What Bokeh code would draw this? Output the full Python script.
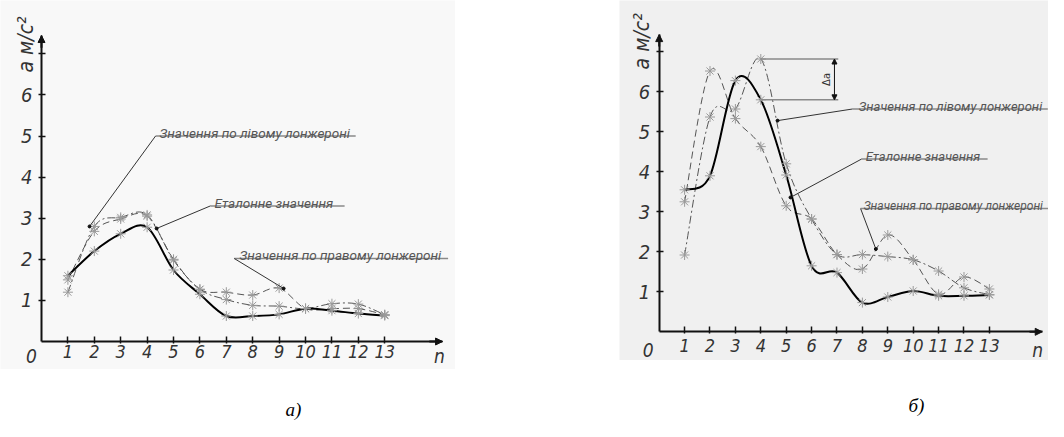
import math
from bokeh.plotting import figure
from bokeh.layouts import row, column
from bokeh.models import (Range1d, FixedTicker, Label, Arrow, NormalHead, Spacer)
from bokeh.embed import file_html
from bokeh.resources import INLINE

# ---------------- data ----------------
n = [1, 2, 3, 4, 5, 6, 7, 8, 9, 10, 11, 12, 13]

# panel а)
etalon_a = [1.6, 2.2, 2.62, 2.78, 1.74, 1.15, 0.62, 0.62, 0.66, 0.8, 0.75, 0.68, 0.63]
left_a = [1.2, 2.8, 3.02, 3.08, 1.98, 1.27, 1.02, 0.88, 0.86, 0.8, 0.92, 0.91, 0.65]
right_a = [1.5, 2.68, 2.98, 3.05, 2.0, 1.27, 1.2, 1.13, 1.3, 0.8, 0.8, 0.8, 0.65]

# panel б)
etalon_b = [3.55, 3.9, 6.28, 5.8, 3.92, 1.65, 1.48, 0.73, 0.87, 1.02, 0.9, 0.9, 0.92]
left_b = [1.92, 5.37, 5.57, 6.82, 4.2, 2.82, 1.93, 1.93, 1.88, 1.8, 1.52, 1.1, 0.93]
right_b = [3.25, 6.52, 5.33, 4.63, 3.15, 2.82, 1.93, 1.57, 2.42, 1.8, 0.94, 1.37, 1.07]

y_ticks = [1, 2, 3, 4, 5, 6, 7]
y_tick_labels = {7: ""}

lbl_left = "Значення по лівому лонжероні"
lbl_etalon = "Еталонне значення"
lbl_right = "Значення по правому лонжероні"
y_title = "a м/с²"
captions = ["а)", "б)"]

FONT = "Roboto"
AXFONT = "DejaVu Sans Condensed"


def smooth(xs, ys, k=1.0 / 6.0):
    m = len(xs)
    d = dict(x0=[], y0=[], x1=[], y1=[], cx0=[], cy0=[], cx1=[], cy1=[])
    for i in range(m - 1):
        a = max(i - 1, 0)
        b = min(i + 2, m - 1)
        d["x0"].append(xs[i]); d["y0"].append(ys[i])
        d["x1"].append(xs[i + 1]); d["y1"].append(ys[i + 1])
        d["cx0"].append(xs[i] + (xs[i + 1] - xs[a]) * k)
        d["cy0"].append(ys[i] + (ys[i + 1] - ys[a]) * k)
        d["cx1"].append(xs[i + 1] - (xs[b] - xs[i]) * k)
        d["cy1"].append(ys[i + 1] - (ys[b] - ys[i]) * k)
    return d


def make_panel(width, height, xr, yr, xb, yb, bg, et, lf, rt,
               label_std_x, notes, origin_off, n_pos, ytitle_pos):
    p = figure(width=width, height=height, x_range=Range1d(*xr),
               y_range=Range1d(*yr), output_backend="svg",
               toolbar_location=None, min_border=0)
    p.background_fill_color = bg
    p.border_fill_color = bg
    p.outline_line_color = None
    p.xgrid.visible = False
    p.ygrid.visible = False

    for ax in (p.xaxis[0], p.yaxis[0]):
        ax.fixed_location = 0
        ax.axis_line_color = "#111111"
        ax.axis_line_width = 2
        ax.major_tick_line_color = "#111111"
        ax.major_tick_line_width = 1.5
        ax.minor_tick_line_color = None
        ax.major_label_text_font = AXFONT
        ax.major_label_text_font_style = "italic"
        ax.major_label_text_color = "#333333"
    p.xaxis.major_label_text_font_size = "18px"
    p.yaxis.major_label_text_font_size = "20px"
    p.xaxis.bounds = (0, xb)
    p.yaxis.bounds = (0, yb)
    p.xaxis.ticker = FixedTicker(ticks=n)
    p.xaxis.major_tick_in = 5
    p.xaxis.major_tick_out = 2
    p.xaxis.major_label_standoff = label_std_x
    p.yaxis.ticker = FixedTicker(ticks=y_ticks)
    p.yaxis.major_label_overrides = y_tick_labels
    p.yaxis.major_tick_in = 4
    p.yaxis.major_tick_out = 3
    p.yaxis.major_label_standoff = 6

    # axis arrows
    p.add_layout(Arrow(end=NormalHead(size=7, fill_color="#111111", line_color="#111111"),
                       x_start=0, y_start=yb - 0.3, x_end=0, y_end=yb,
                       line_color="#111111", line_width=2))
    p.add_layout(Arrow(end=NormalHead(size=7, fill_color="#111111", line_color="#111111"),
                       x_start=xb - 0.5, y_start=0, x_end=xb, y_end=0,
                       line_color="#111111", line_width=2))

    # curves
    p.bezier(**smooth(n, rt), line_color="#555555", line_width=1,
             line_dash="7 4")
    p.bezier(**smooth(n, lf), line_color="#555555", line_width=1,
             line_dash="8 3 2 3")
    p.bezier(**smooth(n, et), line_color="#000000", line_width=2)
    for s in (rt, lf, et):
        p.scatter(n, s, marker="asterisk", size=10, line_color="#9a9a9a",
                  line_width=1)

    # annotations: (text, underline x0, x1, y, leader end x, y, text x, size)
    for txt, ux0, ux1, uy, ex, ey, tx, fs in notes:
        p.segment(x0=[ux0], y0=[uy], x1=[ux1], y1=[uy], line_color="#8a8a8a",
                  line_width=1.5)
        p.segment(x0=[ux0], y0=[uy], x1=[ex], y1=[ey], line_color="#333333",
                  line_width=1)
        p.scatter([ex], [ey], marker="circle", size=3, color="#111111")
        p.add_layout(Label(x=tx, y=uy, y_offset=3, text=txt, text_font=FONT,
                           text_font_style="italic", text_font_size=fs,
                           text_color="#555555", text_baseline="alphabetic",
                           text_align="left"))

    # origin, n, y title
    p.add_layout(Label(x=0, y=0, x_offset=origin_off[0], y_offset=origin_off[1],
                       text="0", text_font=AXFONT, text_font_style="italic",
                       text_font_size="19px", text_color="#333333",
                       text_align="center", text_baseline="middle"))
    p.add_layout(Label(x=n_pos, y=0, y_offset=origin_off[1], text="n",
                       text_font=AXFONT, text_font_style="italic",
                       text_font_size="19px", text_color="#333333",
                       text_align="center", text_baseline="middle"))
    p.add_layout(Label(x=0, y=ytitle_pos[0], x_offset=ytitle_pos[1], text=y_title,
                       angle=math.pi / 2, text_font=AXFONT, text_font_style="italic",
                       text_font_size="21px", text_color="#333333",
                       text_align="left", text_baseline="middle"))
    return p


notes_a = [
    (lbl_left, 4.32, 11.9, 5.0, 1.82, 2.80, 4.47, "13.5px"),
    (lbl_etalon, 6.4, 11.48, 3.30, 4.36, 2.75, 6.55, "13.5px"),
    (lbl_right, 7.3, 15.4, 2.02, 9.17, 1.29, 7.5, "13.5px"),
]
notes_b = [
    (lbl_left, 7.61, 15.3, 5.57, 4.66, 5.28, 7.86, "13px"),
    (lbl_etalon, 7.97, 12.93, 4.32, 5.17, 3.36, 8.13, "13px"),
    (lbl_right, 7.93, 16.0, 3.08, 8.53, 2.07, 8.05, "12px"),
]

p1 = make_panel(455, 369, (-1.553, 15.68), (-0.681, 8.297), 15.19, 7.445,
                "#f8f8f8", etalon_a, left_a, right_a, 1, notes_a, (-10, -14),
                15.07, (6.545, -16))

p2 = make_panel(429, 360, (-1.563, 15.327), (-0.7175, 8.283), 15.08, 7.43,
                "#f0f0f0", etalon_b, left_b, right_b, 5, notes_b, (-11, -18),
                14.9, (6.56, -17))

# delta a marker on panel б)
p2.segment(x0=[4.0, 4.0], y0=[left_b[3], etalon_b[3]], x1=[7.05, 7.05],
           y1=[left_b[3], etalon_b[3]], line_color="#8a8a8a", line_width=1.5)
p2.add_layout(Arrow(start=NormalHead(size=5, fill_color="#111111", line_color="#111111"),
                    end=NormalHead(size=5, fill_color="#111111", line_color="#111111"),
                    x_start=6.9, y_start=left_b[3], x_end=6.9, y_end=etalon_b[3],
                    line_color="#111111", line_width=1))
p2.add_layout(Label(x=6.6, y=(left_b[3] + etalon_b[3]) / 2, text="Δa",
                    angle=math.pi / 2, text_font="DejaVu Sans",
                    text_font_size="10px", text_color="#333333",
                    text_align="center", text_baseline="middle"))

cap = figure(width=1048, height=52, x_range=Range1d(0, 1048), y_range=Range1d(0, 52),
             output_backend="svg", toolbar_location=None, min_border=0)
cap.axis.visible = False
cap.xgrid.visible = False
cap.ygrid.visible = False
cap.outline_line_color = None
cap.background_fill_color = "white"
cap.border_fill_color = "white"
for txt, cx, cy in zip(captions, [293, 916], [12, 16]):
    cap.add_layout(Label(x=cx, y=cy, text=txt, text_font="Liberation Serif",
                         text_font_style="italic", text_font_size="19px",
                         text_color="#000000", text_align="center",
                         text_baseline="middle"))

layout = column(row(p1, Spacer(width=164), p2), cap)
open("out.html", "w").write(file_html(layout, INLINE))
